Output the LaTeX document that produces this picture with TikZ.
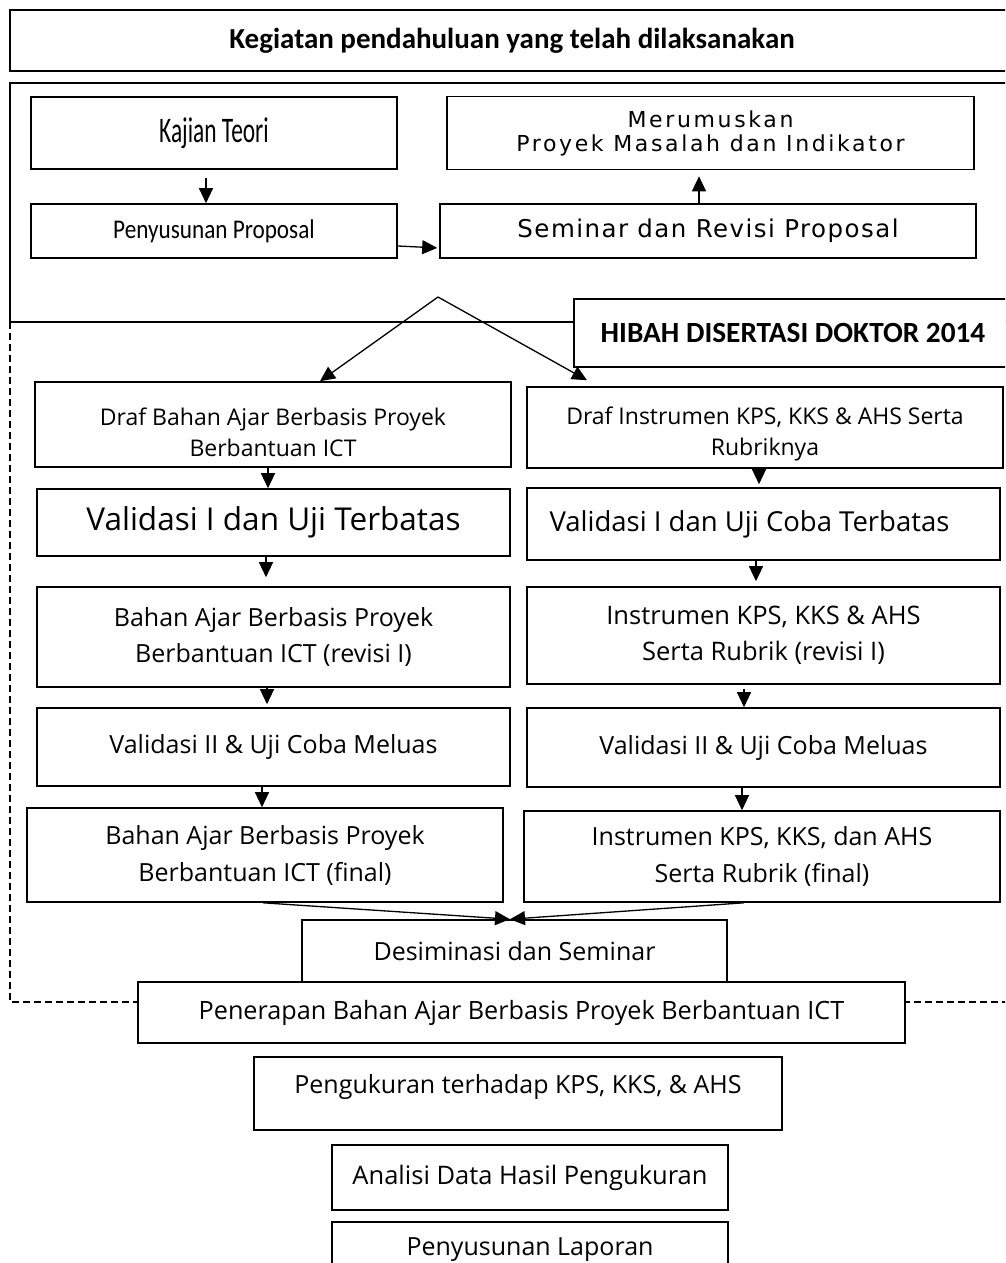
\documentclass[tikz,border=0pt]{standalone}
\usepackage{fontspec}
\setmainfont{Open Sans}
\newfontfamily\calibfont{Carlito}
\newfontfamily\narrowfont[FakeStretch=0.65]{Carlito}
\newfontfamily\semifont[FakeStretch=0.86]{Carlito}
\newfontfamily\verdfont[LetterSpace=6]{DejaVu Sans}
\newfontfamily\verdwidefont[LetterSpace=12]{DejaVu Sans}
\usetikzlibrary{arrows.meta}

\begin{document}
\begin{tikzpicture}[x=1pt, y=-1pt, >={Triangle[length=15pt,width=14pt]},
    box/.style={draw, line width=1.6pt, fill=white, align=center, inner sep=0pt},
    wh/.style 2 args={minimum width=#1pt, minimum height=#2pt},
    sz/.style 2 args={font=\fontsize{#1}{#2}\selectfont},
    link/.style={->, line width=1.3pt}]

\useasboundingbox (0,0) rectangle (1005,1263);
\clip (0,0) rectangle (1005,1263);

% frames round the two phases
\draw[line width=1.6pt] (10,83) rectangle (1020,322);
\draw[line width=1.3pt, dash pattern=on 7pt off 4pt] (10,322) -- (10,1002) -- (1020,1002);

\node[box, wh={1004}{61}, sz={29}{34}] (head) at (512,40.5) {\calibfont\bfseries Kegiatan pendahuluan yang telah dilaksanakan};

% first phase
\node[box, wh={366}{72}, sz={36}{38}] (kajian)  at (214,133)   {\narrowfont Kajian Teori};
\node[box, wh={527}{73}, sz={22}{24}] (merumus) at (710.5,133) {\verdwidefont Merumuskan\\\verdwidefont Proyek Masalah dan Indikator};
\node[box, wh={366}{54}, sz={27}{32}] (susun)   at (214,231)   {\semifont Penyusunan Proposal};
\node[box, wh={536}{54}, sz={24.5}{30}] (seminar) at (708,231) {\verdfont Seminar dan Revisi Proposal};

\path (kajian.south -| 206,0) edge[link, shorten <=8pt] (susun.north -| 206,0)
      ([yshift=-15pt]susun.east) edge[link, shorten >=2pt] ([yshift=-17pt]seminar.west)
      (seminar.north -| 699,0) edge[link, shorten >=6pt] (merumus.south -| 699,0);

% hibah phase
\node[box, wh={438}{68}, sz={29.3}{34}] (hibah) at (793,333) {\calibfont\bfseries HIBAH DISERTASI DOKTOR 2014};

\node[box, wh={476}{85}, sz={23}{31}, text height=64.5pt] (drafA) at (273,424.5) {Draf Bahan Ajar Berbasis Proyek\\Berbantuan ICT};
\node[box, wh={476}{81}, sz={23}{31}, text height=62.5pt] (drafB) at (765,427.5) {Draf Instrumen KPS, KKS \& AHS Serta\\Rubriknya};
\node[box, wh={473}{67}, sz={31.5}{32}] (valA)  at (273.5,522.5) {Validasi I dan Uji Terbatas};
\node[box, wh={473}{72}, sz={27.5}{32}] (valB)  at (763.5,524)   {Validasi I dan Uji Coba Terbatas\hspace*{28pt}};
\node[box, wh={473}{100}, sz={25}{36}] (revA) at (273.5,637)   {Bahan Ajar Berbasis Proyek\\Berbantuan ICT (revisi I)};
\node[box, wh={473}{97}, sz={25.5}{36}] (revB)  at (763.5,635.5) {Instrumen KPS, KKS \& AHS\\Serta Rubrik (revisi I)};
\node[box, wh={473}{78}, sz={25}{32}] (valIIA) at (273.5,747)  {Validasi II \& Uji Coba Meluas};
\node[box, wh={473}{79}, sz={25}{32}] (valIIB) at (763.5,747.5) {Validasi II \& Uji Coba Meluas};
\node[box, wh={476}{94}, sz={25}{37}] (finA)  at (265,855)     {Bahan Ajar Berbasis Proyek\\Berbantuan ICT (final)};
\node[box, wh={476}{91}, sz={25}{37}] (finB)  at (762,856.5)   {Instrumen KPS, KKS, dan AHS\\Serta Rubrik (final)};
\node[box, wh={425}{62}, sz={25}{32}] (desim) at (514.5,951)   {Desiminasi dan Seminar};

\coordinate (split) at (438,297);
\path (split) edge[link] ([xshift=47pt]drafA.north)
      (split) edge[link] ([xshift=-178pt,yshift=6pt]drafB.north);

\path (drafA.south -| 268,0)  edge[link] (valA.north -| 268,0)
      (valA.south -| 266,0)   edge[link, shorten >=9pt] (revA.north -| 266,0)
      (revA.south -| 267,0)   edge[link, shorten >=3pt] (valIIA.north -| 267,0)
      (valIIA.south -| 262,0) edge[link] (finA.north -| 262,0)
      (drafB.south -| 759,0)  edge[link, shorten >=3pt] (valB.north -| 759,0)
      (valB.south -| 756,0)   edge[link, shorten >=5pt] (revB.north -| 756,0)
      (revB.south -| 744,0)   edge[link, shorten <=4pt] (valIIB.north -| 744,0)
      (valIIB.south -| 742,0) edge[link] (finB.north -| 742,0)
      ([xshift=-2pt]finA.south)  edge[link] ([xshift=-4.5pt]desim.north)
      ([xshift=-18pt]finB.south) edge[link] ([xshift=-4.5pt]desim.north);

% after the grant
\node[box, wh={767}{61}, sz={25.2}{32}] (terap)  at (521.5,1012.5) {Penerapan Bahan Ajar Berbasis Proyek Berbantuan ICT};
\node[box, wh={528}{73}, sz={25}{32}, text height=19pt, text depth=20pt] (ukur) at (518,1093.5) {Pengukuran terhadap KPS, KKS, \& AHS};
\node[box, wh={396}{65}, sz={25.5}{32}] (analis) at (530,1177.5)   {Analisi Data Hasil Pengukuran};
\node[box, wh={396}{56}, sz={25}{32}] (lapor)  at (530,1250)     {Penyusunan Laporan};
\end{tikzpicture}
\end{document}
